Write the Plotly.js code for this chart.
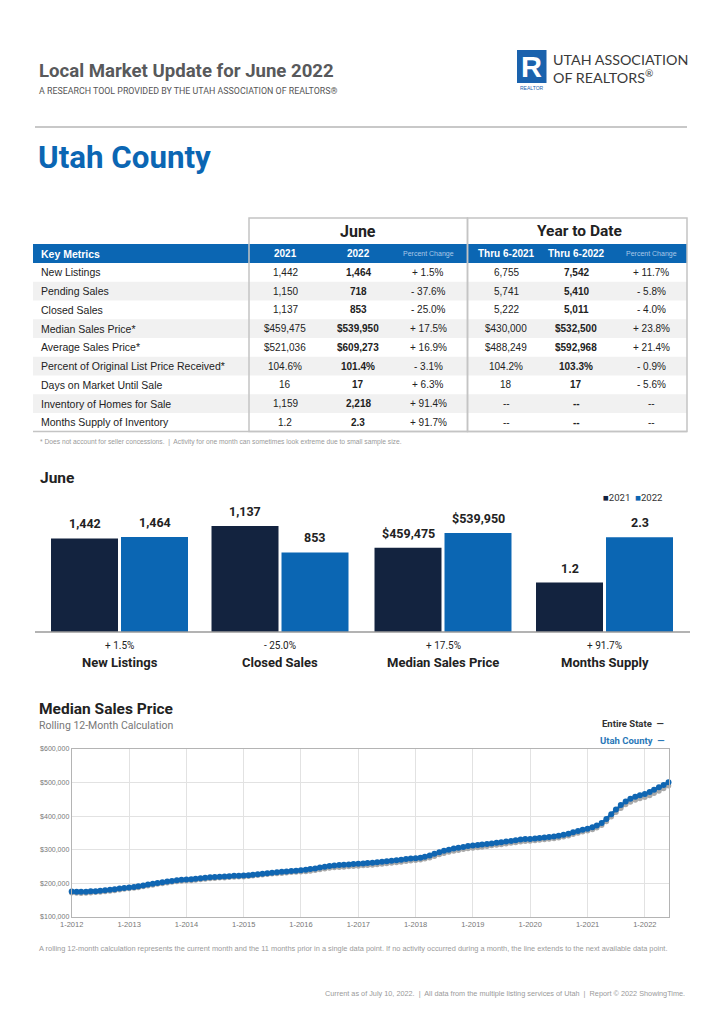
<!DOCTYPE html>
<html><head><meta charset="utf-8">
<script src="https://cdn.plot.ly/plotly-3.0.1.min.js"></script>
<style>html,body{margin:0;padding:0;background:#fff}#chart{width:726px;height:1024px}</style>
</head><body><div id="chart"></div>
<script>
// ---------------- DATA ----------------
const tableHeader = ["Key Metrics","2021","2022","Percent Change","Thru 6-2021","Thru 6-2022","Percent Change"];
const metrics = ["New Listings","Pending Sales","Closed Sales","Median Sales Price*","Average Sales Price*","Percent of Original List Price Received*","Days on Market Until Sale","Inventory of Homes for Sale","Months Supply of Inventory"];
const june2021 = ["1,442","1,150","1,137","$459,475","$521,036","104.6%","16","1,159","1.2"];
const june2022 = ["1,464","718","853","$539,950","$609,273","101.4%","17","2,218","2.3"];
const junePct = ["+ 1.5%","- 37.6%","- 25.0%","+ 17.5%","+ 16.9%","- 3.1%","+ 6.3%","+ 91.4%","+ 91.7%"];
const ytd2021 = ["6,755","5,741","5,222","$430,000","$488,249","104.2%","18","--","--"];
const ytd2022 = ["7,542","5,410","5,011","$532,500","$592,968","103.3%","17","--","--"];
const ytdPct = ["+ 11.7%","- 5.8%","- 4.0%","+ 23.8%","+ 21.4%","- 0.9%","- 5.6%","--","--"];

const barCategories = ["New Listings","Closed Sales","Median Sales Price","Months Supply"];
const bar2021 = [1442, 1137, 459475, 1.2];
const bar2022 = [1464, 853, 539950, 2.3];
const barChange = ["+ 1.5%","- 25.0%","+ 17.5%","+ 91.7%"];
const barSeriesNames = ["2021","2022"];

const utahCounty = [
 176000,175500,175000,175500,176500,177000,178000,179500,181000,182500,184500,186500,
 188000,189500,191500,194000,196500,199000,201500,203500,205500,207500,209500,211000,
 211500,212500,213500,215000,216500,218000,219000,220000,220500,221500,222500,223000,
 223500,224500,226000,227500,229000,230500,232000,233500,234500,235500,237000,238000,
 239000,240500,242500,244500,247000,249500,252000,253500,254500,255500,256500,257500,
 258500,259500,260500,261500,263000,264500,266000,267500,269000,270500,272500,274000,
 275000,276500,279000,283000,288000,293000,297000,300500,303500,306000,308500,311000,
 312500,314000,315500,317000,319000,321000,322500,324500,326500,328500,330500,332000,
 332500,333500,335000,336500,338000,339500,341500,344500,348000,352000,356000,360000,
 363000,367000,372000,380000,392000,406000,420000,433000,444000,452000,458000,462000,
 466000,472000,479000,486000,493000,501000
];
const entireState = [
 172000,171500,171000,171500,172500,173500,174500,176000,177500,179000,181000,183000,
 184500,186000,188000,190500,193000,195500,198000,200000,202000,204000,206000,207500,
 208000,209000,210000,211500,213000,214500,215500,216500,217000,218000,219000,219500,
 220000,221000,222500,224000,225500,227000,228500,229500,230500,231500,233000,234000,
 234500,235500,237000,239000,241000,243500,245500,247000,248000,249000,250000,251000,
 252000,253000,254000,255000,256500,258000,259500,261000,262500,264000,266000,267500,
 269000,270500,273000,276500,281000,286000,290000,293500,296500,299000,301500,304000,
 305500,307000,308500,310500,312500,314500,316000,318000,320000,322000,324000,325500,
 326500,327500,329000,330500,332000,333500,335500,338500,342000,346000,350000,354000,
 357000,360500,365500,373000,384500,398000,411500,424000,434500,442500,448500,452500,
 456500,461500,468000,475000,482500,490500
];
// month labels Jan 2012 .. Jun 2022
const months = [];
for (let y = 2012; y <= 2022; y++) for (let m = 1; m <= 12; m++) {
  if (y === 2022 && m > 6) break;
  months.push(y + '-' + String(m).padStart(2,'0') + '-01');
}

// ---------------- STYLE ----------------
const W = 726, H = 1024;
const X = p => p / W, Y = p => 1 - p / H;
const COND = 'Roboto, "Liberation Sans", sans-serif';
const SANS = '"Liberation Sans", Arial, Helvetica, sans-serif';
const NAVY = '#13233f', BLUE = '#0b66b3', TEXT = '#222222';

const traces = [];
const annotations = [];
const shapes = [];
const layout = {
  width: W, height: H, margin: {l:0,r:0,t:0,b:0},
  paper_bgcolor: '#ffffff', plot_bgcolor: 'rgba(0,0,0,0)',
  showlegend: false, hovermode: false,
  annotations, shapes
};

function txt(x, y, text, size, color, opts, family) {
  annotations.push(Object.assign({
    xref:'paper', yref:'paper', x:X(x), y:Y(y), text:text, showarrow:false,
    xanchor:'left', yanchor:'middle', font:{family:family || SANS, size:size, color:color}
  }, opts || {}));
}
function rect(x0, y0, x1, y1, fill, line) {
  shapes.push({type:'rect', xref:'paper', yref:'paper', x0:X(x0), x1:X(x1), y0:Y(y1), y1:Y(y0),
    fillcolor:fill || 'rgba(0,0,0,0)', line:line || {width:0}, layer:'below'});
}
function hline(x0, x1, y, color, width) {
  shapes.push({type:'line', xref:'paper', yref:'paper', x0:X(x0), x1:X(x1), y0:Y(y), y1:Y(y), line:{color:color, width:width}});
}

// ---------- header ----------
txt(37, 71, '<b>Local Market Update for June 2022</b>', 18.6, '#58595b', null, COND);
txt(37, 91, 'A RESEARCH TOOL PROVIDED BY THE UTAH ASSOCIATION OF REALTORS®', 8.85, '#555555', null, COND);
hline(35, 687, 127, '#c8c8c8', 2);
txt(36, 157, '<b>Utah County</b>', 31.3, BLUE, null, COND);

// logo
rect(517, 50, 546.5, 83, '#1a62ad');
txt(531.7, 67, '<b>R</b>', 29, '#ffffff', {xanchor:'center'});
txt(531.7, 87.5, 'REALTOR', 5, '#1a62ad', {xanchor:'center'});
txt(551, 59, 'UTAH ASSOCIATION', 14.3, '#3a3a3a', null, 'Lato, "Open Sans", sans-serif');
txt(551, 76, 'OF REALTORS<sup>®</sup>', 14.3, '#3a3a3a', null, 'Lato, "Open Sans", sans-serif');

// ---------- table (row shading + text cells) ----------
const colCenters = [285, 358, 428, 506, 576, 651];
const rowTop = 263, rowH = 18.75;
rect(33, 244, 687, 263, BLUE);
metrics.forEach((m, r) => { if (r % 2) rect(33, rowTop + r * rowH, 687, rowTop + (r + 1) * rowH, '#f1f1f1'); });
shapes.push({type:'rect', xref:'paper', yref:'paper', x0:X(249), x1:X(467.5), y0:Y(431.5), y1:Y(218), line:{color:'#c4c4c4', width:1.5}});
shapes.push({type:'rect', xref:'paper', yref:'paper', x0:X(467.5), x1:X(687), y0:Y(431.5), y1:Y(218), line:{color:'#c4c4c4', width:1.5}});
hline(33, 687, 431.5, '#c4c4c4', 1.5);
txt(358, 231, '<b>June</b>', 16, TEXT, {xanchor:'center'}, COND);
txt(579, 231, '<b>Year to Date</b>', 15.5, TEXT, {xanchor:'center'}, COND);
txt(39, 253.5, '<b>' + tableHeader[0] + '</b>', 10.5, '#ffffff');
tableHeader.slice(1).forEach((h, c) => {
  const small = (c === 2 || c === 5);
  txt(colCenters[c], 253.5, small ? h : '<b>' + h + '</b>', small ? 7 : 10, small ? '#a9c8e8' : '#ffffff', {xanchor:'center'});
});
const tableCols = [june2021, june2022, junePct, ytd2021, ytd2022, ytdPct];
metrics.forEach((m, r) => {
  const yc = rowTop + (r + 0.5) * rowH;
  txt(39, yc, m, 10.5, TEXT);
  tableCols.forEach((col, c) => {
    const isBold = (c === 1 || c === 4);
    txt(colCenters[c], yc, isBold ? '<b>' + col[r] + '</b>' : col[r], 10, TEXT, {xanchor:'center'});
  });
});
txt(38, 442, '* Does not account for seller concessions.  |  Activity for one month can sometimes look extreme due to small sample size.', 6.7, '#9a9a9a');

// ---------- bar chart ----------
txt(38, 478, '<b>June</b>', 15.5, TEXT, null, COND);
txt(601, 497, '<span style="color:' + NAVY + '">■</span>' + barSeriesNames[0] + '  <span style="color:' + BLUE + '">■</span>' + barSeriesNames[1], 9.6, '#333333', null, COND);
const panelCenters = [119.5, 280, 443, 604.5];
const panelTops = [2035, 1415, 720000, 3.2];
const fmts = [v => v.toLocaleString('en-US'), v => v.toLocaleString('en-US'), v => '$' + v.toLocaleString('en-US'), v => v.toFixed(1)];
barCategories.forEach((cat, i) => {
  const xa = i === 0 ? 'x' : 'x' + (i + 1), ya = i === 0 ? 'y' : 'y' + (i + 1);
  const xk = i === 0 ? 'xaxis' : 'xaxis' + (i + 1), yk = i === 0 ? 'yaxis' : 'yaxis' + (i + 1);
  const c = panelCenters[i];
  layout[xk] = {domain:[X(c - 70), X(c + 70)], range:[-0.5, 1.5], visible:false, fixedrange:true, anchor:ya};
  layout[yk] = {domain:[Y(632), Y(500)], range:[0, panelTops[i]], visible:false, fixedrange:true, anchor:xa};
  [[bar2021, NAVY, 0], [bar2022, BLUE, 1]].forEach(([vals, col, k]) => {
    traces.push({type:'bar', name:barSeriesNames[k], x:[k], y:[vals[i]], xaxis:xa, yaxis:ya, width:0.957,
      marker:{color:col, line:{width:0}}, hoverinfo:'skip'});
    annotations.push({xref:xa, yref:ya, x:k, y:vals[i], text:'<b>' + fmts[i](vals[i]) + '</b>', showarrow:false,
      xanchor:'center', yanchor:'bottom', yshift:5, font:{family:COND, size:12.5, color:TEXT}});
  });
  txt(c, 645, barChange[i], 10, TEXT, {xanchor:'center'}, COND);
  txt(c, 662, '<b>' + cat + '</b>', 13, TEXT, {xanchor:'center'}, COND);
});
hline(35, 690, 632, '#9a9a9a', 1.5);

// ---------- line chart ----------
txt(37, 709, '<b>Median Sales Price</b>', 15.5, TEXT, null, COND);
txt(37, 725, 'Rolling 12-Month Calculation', 10.5, '#777777', null, COND);
txt(666, 723, '<b>Entire State  —</b>', 9.5, '#333333', {xanchor:'right'}, COND);
txt(666, 740, '<b>Utah County  —</b>', 9.5, '#2a78b8', {xanchor:'right'}, COND);
layout.xaxis5 = {domain:[X(71.7), X(668.5)], anchor:'y5', type:'date', range:['2012-01-01','2022-06-01'],
  tick0:'2012-01-01', dtick:'M12', tickformat:'%-m-%Y', ticks:'', showgrid:true, gridcolor:'#e2e2e2',
  showline:true, linecolor:'#b4b4b4', mirror:true, zeroline:false, fixedrange:true,
  tickfont:{family:SANS, size:7.5, color:'#777'}};
layout.yaxis5 = {domain:[Y(917), Y(749)], anchor:'x5', range:[100000, 600000], dtick:100000, tickformat:'$,.0f',
  ticks:'', showgrid:true, gridcolor:'#e2e2e2', showline:true, linecolor:'#b4b4b4', mirror:true, zeroline:false,
  fixedrange:true, tickfont:{family:SANS, size:7, color:'#777'}};
traces.push({type:'scatter', mode:'lines+markers', name:'Entire State', x:months, y:entireState, xaxis:'x5', yaxis:'y5',
  line:{color:'#a9a9a9', width:2}, marker:{color:'#a9a9a9', size:5.5}, cliponaxis:false, hoverinfo:'skip'});
traces.push({type:'scatter', mode:'lines+markers', name:'Utah County', x:months, y:utahCounty, xaxis:'x5', yaxis:'y5',
  line:{color:'#1066b2', width:2.5}, marker:{color:'#1066b2', size:6}, cliponaxis:false, hoverinfo:'skip'});
txt(37, 948, 'A rolling 12-month calculation represents the current month and the 11 months prior in a single data point. If no activity occurred during a month, the line extends to the next available data point.', 7.4, '#9a9a9a');

// ---------- footer ----------
txt(687, 993, 'Current as of July 10, 2022.  |  All data from the multiple listing services of Utah  |  Report © 2022 ShowingTime.', 7.3, '#9a9a9a', {xanchor:'right'});

Plotly.newPlot('chart', traces, layout, {staticPlot:true, displayModeBar:false});
</script>
</body></html>
